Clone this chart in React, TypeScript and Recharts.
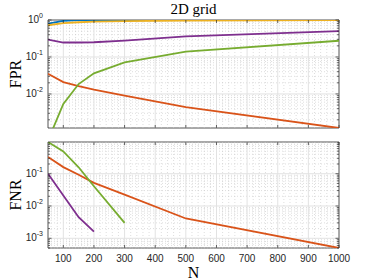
import { LineChart, Line, XAxis, YAxis, ReferenceLine, ReferenceArea } from 'recharts';

const N = [50, 100, 150, 200, 300, 500, 1000];

// false positive rate, one array per method
const fprBlue = [0.8, 0.95, 0.99, 1, 1, 1, 1];
const fprOrange = [0.035, 0.021, 0.0163, 0.013, 0.009, 0.0044, 0.0012];
const fprYellow = [0.72, 0.82, 0.87, 0.9, 0.93, 0.97, 1];
const fprPurple = [0.296, 0.246, 0.246, 0.25, 0.277, 0.36, 0.5];
const fprGreen = [0.00055, 0.0054, 0.0185, 0.036, 0.071, 0.14, 0.275];

// false negative rate (zeros left out on the log axis)
const fnrOrange = [0.33, 0.16, 0.093, 0.052, 0.0226, 0.0041, 0.0005];
const fnrPurple = [0.1, 0.021, 0.0045, 0.0016, null, null, null];
const fnrGreen = [0.96, 0.49, 0.158, 0.041, 0.003, null, null];

const xTicks = [100, 200, 300, 400, 500, 600, 700, 800, 900, 1000];

const BLUE = '#0072BD';
const ORANGE = '#D95319';
const YELLOW = '#EDB120';
const PURPLE = '#7E2F8E';
const GREEN = '#77AC30';
const AXIS = '#262626';

const PLOT_L = 48;
const PLOT_R = 339;
const W = 374;
const SANS = "'Liberation Sans', Arial, sans-serif";
const SERIF = "'Liberation Serif', 'Times New Roman', serif";

const fprData = N.map((n, i) => ({
  n,
  blue: fprBlue[i],
  orange: fprOrange[i],
  yellow: fprYellow[i],
  purple: fprPurple[i],
  green: fprGreen[i],
}));

const fnrData = N.map((n, i) => ({
  n,
  orange: fnrOrange[i],
  purple: fnrPurple[i],
  green: fnrGreen[i],
}));

function logTicks(lo: number, hi: number) {
  const out: number[] = [];
  for (let e = -4; e <= 0; e++) {
    for (let m = 1; m <= 9; m++) {
      const v = m * Math.pow(10, e);
      if (v >= lo * 0.999 && v <= hi * 1.001) out.push(v);
    }
  }
  return out;
}

function isDecade(v: number) {
  const l = Math.log10(v);
  return Math.abs(l - Math.round(l)) < 1e-6;
}

function YTick(props: any) {
  const { y, payload } = props;
  const v = payload.value;
  const major = isDecade(v);
  const len = major ? 3.5 : 2;
  const e = Math.round(Math.log10(v));
  return (
    <g>
      <line x1={PLOT_L} x2={PLOT_L + len} y1={y} y2={y} stroke={AXIS} strokeWidth={0.7} />
      <line x1={PLOT_R - len} x2={PLOT_R} y1={y} y2={y} stroke={AXIS} strokeWidth={0.7} />
      {major && (
        <text x={PLOT_L - 5} y={y + 3} textAnchor="end" fill={AXIS} fontSize={10} fontFamily={SANS}>
          <tspan>10</tspan>
          <tspan dy={-5} fontSize={7}>{e}</tspan>
        </text>
      )}
    </g>
  );
}

function makeXTick(top: number, bottom: number, showLabel: boolean) {
  return (props: any) => {
    const { x, payload } = props;
    return (
      <g>
        <line x1={x} x2={x} y1={bottom} y2={bottom - 3} stroke={AXIS} strokeWidth={0.7} />
        <line x1={x} x2={x} y1={top} y2={top + 3} stroke={AXIS} strokeWidth={0.7} />
        {showLabel && (
          <text x={x} y={bottom + 13.5} textAnchor="middle" fill={AXIS} fontSize={10} fontFamily={SANS}>
            {payload.value}
          </text>
        )}
      </g>
    );
  };
}

function gridLines(yLo: number, yHi: number) {
  const lines: any[] = [];
  for (let v = 60; v < 1000; v += 20) {
    if (v % 100 === 0) continue;
    lines.push(<ReferenceLine key={'xm' + v} x={v} stroke="#c8c8c8" strokeWidth={0.6} strokeDasharray="1 2" />);
  }
  logTicks(yLo, yHi).forEach((v) => {
    if (!isDecade(v)) {
      lines.push(<ReferenceLine key={'ym' + v} y={v} stroke="#c8c8c8" strokeWidth={0.6} strokeDasharray="1 2" />);
    }
  });
  xTicks.forEach((v) => {
    if (v < 1000) lines.push(<ReferenceLine key={'xM' + v} x={v} stroke="#e2e2e2" strokeWidth={1} />);
  });
  logTicks(yLo, yHi).forEach((v) => {
    if (isDecade(v) && v < yHi) lines.push(<ReferenceLine key={'yM' + v} y={v} stroke="#e2e2e2" strokeWidth={1} />);
  });
  return lines;
}

const FPR_LO = 0.0012;
const FPR_HI = 1;
const FNR_LO = 0.0005;
const FNR_HI = 0.96;

export default function App() {
  return (
    <div style={{ position: 'absolute', left: 0, top: 0, width: W, height: 280, background: '#fff' }}>
      <div style={{ position: 'absolute', left: 0, top: 0 }}>
        <LineChart width={W} height={136} data={fprData} margin={{ top: 20, right: W - PLOT_R, left: PLOT_L - 1, bottom: 7 }}>
          {gridLines(FPR_LO, FPR_HI)}
          <ReferenceArea x1={50} x2={1000} y1={FPR_LO} y2={FPR_HI} fill="none" stroke={AXIS} strokeWidth={0.8} />
          <XAxis
            dataKey="n"
            type="number"
            domain={[50, 1000]}
            ticks={xTicks}
            allowDataOverflow
            height={1}
            axisLine={false}
            tickLine={false}
            tickSize={0}
            tickMargin={0}
            interval={0}
            tick={makeXTick(20, 128, false)}
          />
          <YAxis
            type="number"
            scale="log"
            domain={[FPR_LO, FPR_HI]}
            ticks={logTicks(FPR_LO, FPR_HI)}
            allowDataOverflow
            width={1}
            axisLine={false}
            tickLine={false}
            tickSize={0}
            tickMargin={0}
            interval={0}
            tick={YTick}
          />
          <Line dataKey="blue" stroke={BLUE} strokeWidth={1.8} dot={false} isAnimationActive={false} />
          <Line dataKey="orange" stroke={ORANGE} strokeWidth={1.8} dot={false} isAnimationActive={false} />
          <Line dataKey="yellow" stroke={YELLOW} strokeWidth={1.8} dot={false} isAnimationActive={false} />
          <Line dataKey="purple" stroke={PURPLE} strokeWidth={1.8} dot={false} isAnimationActive={false} />
          <Line dataKey="green" stroke={GREEN} strokeWidth={1.8} dot={false} isAnimationActive={false} />
        </LineChart>
      </div>
      <div style={{ position: 'absolute', left: 0, top: 135 }}>
        <LineChart width={W} height={145} data={fnrData} margin={{ top: 7, right: W - PLOT_R, left: PLOT_L - 1, bottom: 31 }}>
          {gridLines(FNR_LO, FNR_HI)}
          <ReferenceArea x1={50} x2={1000} y1={FNR_LO} y2={FNR_HI} fill="none" stroke={AXIS} strokeWidth={0.8} />
          <XAxis
            dataKey="n"
            type="number"
            domain={[50, 1000]}
            ticks={xTicks}
            allowDataOverflow
            height={1}
            axisLine={false}
            tickLine={false}
            tickSize={0}
            tickMargin={0}
            interval={0}
            tick={makeXTick(7, 113, true)}
          />
          <YAxis
            type="number"
            scale="log"
            domain={[FNR_LO, FNR_HI]}
            ticks={logTicks(FNR_LO, FNR_HI)}
            allowDataOverflow
            width={1}
            axisLine={false}
            tickLine={false}
            tickSize={0}
            tickMargin={0}
            interval={0}
            tick={YTick}
          />
          <Line dataKey="orange" stroke={ORANGE} strokeWidth={1.8} dot={false} isAnimationActive={false} />
          <Line dataKey="purple" stroke={PURPLE} strokeWidth={1.8} dot={false} isAnimationActive={false} />
          <Line dataKey="green" stroke={GREEN} strokeWidth={1.8} dot={false} isAnimationActive={false} />
        </LineChart>
      </div>
      <svg width={W} height={280} style={{ position: 'absolute', left: 0, top: 0, pointerEvents: 'none' }}>
        <text x={193.5} y={14} textAnchor="middle" fontSize={15} fontFamily={SERIF} fill="#000">2D grid</text>
        <text x={21} y={74} textAnchor="middle" fontSize={16} fontFamily={SERIF} fill="#000" transform="rotate(-90, 21, 74)">FPR</text>
        <text x={21} y={195} textAnchor="middle" fontSize={16} fontFamily={SERIF} fill="#000" transform="rotate(-90, 21, 195)">FNR</text>
        <text x={193.5} y={278} textAnchor="middle" fontSize={16} fontFamily={SERIF} fill="#000">N</text>
      </svg>
    </div>
  );
}
